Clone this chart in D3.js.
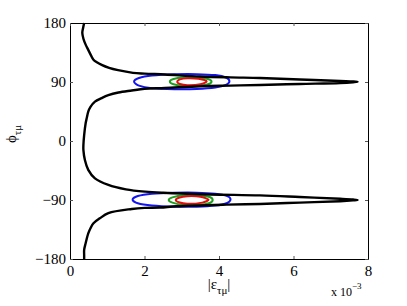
<!DOCTYPE html>
<html>
<head>
<meta charset="utf-8">
<script src="https://cdn.jsdelivr.net/npm/d3@7"></script>
<style>
  body { margin: 0; background: #fff; }
  text { font-family: "Liberation Serif", "Times New Roman", serif; }
</style>
</head>
<body>
<svg width="407" height="306" id="mainsvg"></svg>
<script>
// tick values (eps in units of 1e-3, phi in degrees)
const xTicks = [0, 2, 4, 6, 8];
const yTicks = [-180, -90, 0, 90, 180];

// black boundary contour, [|eps|, phi]
const boundary = [
  [0.38,180],[0.35,172],[0.33,165],[0.36,156],[0.42,147],[0.49,139],[0.56,131],[0.63,124],
  [0.72,120],[0.85,116],[1.05,111.5],[1.29,108],[1.69,104],[2.0,102.8],[2.55,101.4],
  [3.49,98.4],[4.3,97],[5.1,96.1],[6.17,93.8],[7.25,91.5],[7.6,90.8],[7.72,90.2],
  [7.6,89.6],[7.25,88.5],[6.17,87],[5.1,85.4],[4.3,84.5],[3.49,83.5],[2.55,80.8],
  [2.0,79.6],[1.66,77],[1.3,74],[1.03,70],[0.85,65.5],[0.67,60],[0.55,52],[0.49,44.7],
  [0.45,35],[0.42,27],[0.38,9],[0.36,-6],[0.36,-14],[0.4,-29],[0.49,-44],[0.67,-57],
  [1.03,-67],[1.5,-73.7],[2.02,-77.3],[2.5,-79],[3.76,-81.5],[5.1,-83],[6.17,-85.5],
  [7.25,-88.2],[7.6,-89.3],[7.72,-90],[7.6,-90.6],[7.25,-91.8],[6.17,-94],[5.1,-96],
  [4.2,-97],[2.86,-99.5],[2.42,-101.5],[2.0,-102],[1.66,-103.7],[1.03,-110],[0.8,-118],
  [0.63,-125.5],[0.55,-133],[0.49,-141],[0.42,-156],[0.38,-166],[0.38,-174],[0.38,-180]
];

// closed confidence contours around phi = +90
const blueUp = [[1.72,90.5],[1.85,96],[2.2,99.8],[2.8,101.8],[3.4,102],[3.9,100.5],[4.2,96.5],
  [4.28,91],[4.2,86],[3.9,81.5],[3.4,79.3],[2.8,79],[2.2,80.5],[1.85,84.5]];
const greenUp = [[2.68,90.5],[2.78,94.5],[3.05,96.8],[3.4,96.8],[3.7,94.5],[3.8,90.5],
  [3.7,86.5],[3.4,84.2],[3.05,84.2],[2.78,86.5]];
const redUp = [[2.88,90.5],[2.95,94],[3.15,95.8],[3.45,95],[3.67,91],[3.5,86.5],[3.15,85.2],[2.95,87]];

// closed confidence contours around phi = -90
const blueDown = [[1.68,-89.5],[1.82,-84],[2.2,-80.5],[2.8,-79],[3.4,-78.9],[3.9,-80.5],[4.22,-84],
  [4.31,-89],[4.22,-94.5],[3.9,-98.5],[3.4,-100.2],[2.8,-100.2],[2.2,-98.5],[1.82,-95]];
const greenDown = [[2.65,-90],[2.75,-86],[3.05,-82.6],[3.45,-82.6],[3.75,-85.5],[3.83,-90],
  [3.75,-94.5],[3.45,-97.4],[3.05,-97.4],[2.75,-94]];
const redDown = [[2.84,-90],[2.92,-86.5],[3.15,-84.2],[3.5,-85],[3.72,-89.5],[3.55,-94],[3.15,-95.8],[2.92,-93.5]];

const svg = d3.select('#mainsvg');
const margin = {top: 23, right: 39, bottom: 47, left: 70};
const width = 407, height = 306;
const innerWidth = width - margin.left - margin.right;
const innerHeight = height - margin.top - margin.bottom;

const xScale = d3.scaleLinear().domain([0, 8]).range([0, innerWidth]);
const yScale = d3.scaleLinear().domain([-180, 180]).range([innerHeight, 0]);

const g = svg.append('g').attr('transform', `translate(${margin.left},${margin.top})`);

const line = d3.line().x(d => xScale(d[0])).y(d => yScale(d[1])).curve(d3.curveCatmullRom.alpha(0.5));
const closed = d3.line().x(d => xScale(d[0])).y(d => yScale(d[1])).curve(d3.curveCardinalClosed.tension(0.2));

// contours
[[blueUp, '#1414f0'], [blueDown, '#1414f0'], [greenUp, '#1e9e1e'], [greenDown, '#1e9e1e'],
 [redUp, '#dd0f0f'], [redDown, '#dd0f0f']].forEach(([pts, c]) => {
  g.append('path').attr('d', closed(pts)).attr('fill', 'none').attr('stroke', c).attr('stroke-width', 2);
});

g.append('path').datum(boundary).attr('d', line)
  .attr('fill', 'none').attr('stroke', '#000').attr('stroke-width', 2.4)
  .attr('stroke-linejoin', 'round');

// axes
const xAxis = d3.axisBottom(xScale).tickValues(xTicks).tickSizeInner(-3).tickSizeOuter(0).tickPadding(6);
const yAxis = d3.axisLeft(yScale).tickValues(yTicks).tickSizeInner(-3).tickSizeOuter(0).tickPadding(4);
const xTop = d3.axisTop(xScale).tickValues(xTicks).tickSizeInner(-3).tickSizeOuter(0).tickFormat('');
const yRight = d3.axisRight(yScale).tickValues(yTicks).tickSizeInner(-3).tickSizeOuter(0).tickFormat('');

g.append('g').attr('transform', `translate(0,${innerHeight})`).call(xAxis);
g.append('g').call(yAxis);
g.append('g').call(xTop);
g.append('g').attr('transform', `translate(${innerWidth},0)`).call(yRight);

g.selectAll('.tick line').attr('stroke', '#555');
g.selectAll('.domain').attr('stroke', '#000');
g.selectAll('.tick text').attr('font-size', 15).attr('font-family', '"Liberation Serif", serif').attr('fill', '#000');

// axis labels
const xl = svg.append('text').attr('x', margin.left + innerWidth / 2).attr('y', 289)
  .attr('text-anchor', 'middle').attr('font-size', 15);
xl.append('tspan').text('|ε');
xl.append('tspan').text('τμ').attr('font-size', 11).attr('dy', 5);
xl.append('tspan').text('|').attr('dy', -5);

const yl = svg.append('text').attr('transform', 'translate(16,134) rotate(-90)')
  .attr('text-anchor', 'middle').attr('font-size', 15);
yl.append('tspan').text('ϕ');
yl.append('tspan').text('τμ').attr('font-size', 11).attr('dy', 5);

const sc = svg.append('text').attr('x', 331).attr('y', 296).attr('font-size', 12);
sc.append('tspan').text('x 10');
sc.append('tspan').text('−3').attr('font-size', 9).attr('dy', -7);
</script>
</body>
</html>
